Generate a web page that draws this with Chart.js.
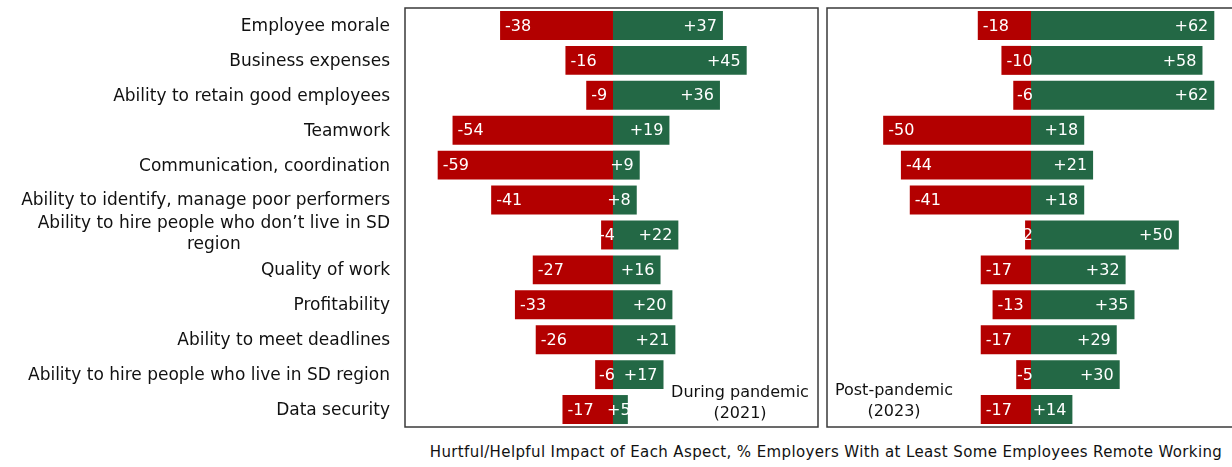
<!DOCTYPE html>
<html>
<head>
<meta charset="utf-8">
<script src="https://cdn.jsdelivr.net/npm/chart.js@4/dist/chart.umd.min.js"></script>
<style>
  html, body { margin: 0; padding: 0; background: #fff; overflow: hidden; }
  body { width: 1232px; height: 467px; position: relative; font-family: "DejaVu Sans", sans-serif; color: #111; }
  .panel { position: absolute; top: 0; height: 430px; }
  #left { left: 0; width: 820px; }
  #right { left: 820px; width: 420px; }
  .note { position: absolute; font-size: 16px; line-height: 21px; text-align: center; white-space: nowrap; transform: translateX(-50%); }
  #axisTitle { position: absolute; top: 443px; left: 826px; transform: translateX(-50%); font-size: 15px; white-space: nowrap; letter-spacing: 0.38px; }
</style>
</head>
<body>
<div class="panel" id="left"><canvas id="chartDuring"></canvas></div>
<div class="panel" id="right"><canvas id="chartPost"></canvas></div>
<div class="note" style="left:740px; top:381px;">During pandemic<br>(2021)</div>
<div class="note" style="left:894px; top:379px;">Post-pandemic<br>(2023)</div>
<div id="axisTitle">Hurtful/Helpful Impact of Each Aspect, % Employers With at Least Some Employees Remote Working</div>

<script>
var aspects = [
    "Employee morale",
    "Business expenses",
    "Ability to retain good employees",
    "Teamwork",
    "Communication, coordination",
    "Ability to identify, manage poor performers",
    ["Ability to hire people who don\u2019t live in SD", "region"],
    "Quality of work",
    "Profitability",
    "Ability to meet deadlines",
    "Ability to hire people who live in SD region",
    "Data security"
];

// during pandemic (2021)
var hurtful2021 = [-38, -16, -9, -54, -59, -41, -4, -27, -33, -26, -6, -17];
var helpful2021 = [37, 45, 36, 19, 9, 8, 22, 16, 20, 21, 17, 5];

// post-pandemic (2023)
var hurtful2023 = [-18, -10, -6, -50, -44, -41, -2, -17, -13, -17, -5, -17];
var helpful2023 = [62, 58, 62, 18, 21, 18, 50, 32, 35, 29, 30, 14];

var RED = "#b30000";
var GREEN = "#236845";
var VALUE_FONT = "16px 'DejaVu Sans', sans-serif";
var NAME_FONT = "17px 'DejaVu Sans', sans-serif";

// white value labels inside the bars, pushed toward the zero line when the bar is short
var barValues = {
    id: "barValues",
    afterDatasetsDraw: function(chart) {
        var ctx = chart.ctx;
        ctx.save();
        ctx.font = VALUE_FONT;
        ctx.fillStyle = "#fff";
        ctx.textBaseline = "middle";
        chart.data.datasets.forEach(function(ds, di) {
            var meta = chart.getDatasetMeta(di);
            meta.data.forEach(function(bar, i) {
                var v = ds.data[i];
                var txt = v < 0 ? String(v) : "+" + v;
                var w = ctx.measureText(txt).width;
                if (v < 0) {
                    ctx.textAlign = "left";
                    ctx.fillText(txt, Math.min(bar.x + 5, bar.base - w + 2), bar.y + 1);
                } else {
                    ctx.textAlign = "right";
                    ctx.fillText(txt, Math.max(bar.x - 6, bar.base - 6 + w), bar.y + 1);
                }
            });
        });
        ctx.restore();
    }
};

// box round the plot area
var panelFrame = {
    id: "panelFrame",
    afterDraw: function(chart) {
        var a = chart.chartArea;
        var ctx = chart.ctx;
        ctx.save();
        ctx.strokeStyle = "#3a3a3a";
        ctx.lineWidth = 1.5;
        ctx.strokeRect(a.left, a.top, a.right - a.left, a.bottom - a.top);
        ctx.restore();
    }
};

// aspect names, right aligned; wrapped names keep their lines centred on each other
var aspectNames = {
    id: "aspectNames",
    afterDraw: function(chart) {
        var yScale = chart.scales.y;
        var ctx = chart.ctx;
        ctx.save();
        ctx.font = NAME_FONT;
        ctx.fillStyle = "#111";
        ctx.textBaseline = "middle";
        var right = 390;
        aspects.forEach(function(name, i) {
            var y = yScale.getPixelForValue(i) + 1;
            if (Array.isArray(name)) {
                var widths = name.map(function(s) { return ctx.measureText(s).width; });
                var blockW = Math.max.apply(null, widths);
                var mid = right - blockW / 2;
                ctx.textAlign = "center";
                name.forEach(function(s, k) {
                    ctx.fillText(s, mid, y + (k - (name.length - 1) / 2) * 21 - 2);
                });
            } else {
                ctx.textAlign = "right";
                ctx.fillText(name, right, y);
            }
        });
        ctx.restore();
    }
};

function makePanel(canvasId, hurtful, helpful, withNames) {
    var ctx = document.getElementById(canvasId);
    var plugins = [barValues, panelFrame];
    if (withNames) plugins.push(aspectNames);
    return new Chart(ctx, {
        type: "bar",
        data: {
            labels: aspects,
            datasets: [
                { label: "Hurtful", data: hurtful, backgroundColor: RED, barPercentage: 0.83, categoryPercentage: 1 },
                { label: "Helpful", data: helpful, backgroundColor: GREEN, barPercentage: 0.83, categoryPercentage: 1 }
            ]
        },
        options: {
            indexAxis: "y",
            responsive: true,
            maintainAspectRatio: false,
            animation: false,
            layout: {
                padding: withNames
                    ? { left: 0, right: 2, top: 8, bottom: 3 }
                    : { left: 7, right: 5, top: 8, bottom: 3 }
            },
            plugins: {
                legend: { display: false },
                tooltip: { enabled: false }
            },
            scales: {
                x: {
                    stacked: true,
                    display: false,
                    min: withNames ? -70 : -69,
                    max: 69
                },
                y: {
                    stacked: true,
                    display: withNames,
                    grid: { display: false },
                    border: { display: false },
                    ticks: { display: false },
                    afterFit: function(scale) {
                        if (withNames) scale.width = 405;
                    }
                }
            }
        },
        plugins: plugins
    });
}

makePanel("chartDuring", hurtful2021, helpful2021, true);
makePanel("chartPost", hurtful2023, helpful2023, false);
</script>
</body>
</html>
